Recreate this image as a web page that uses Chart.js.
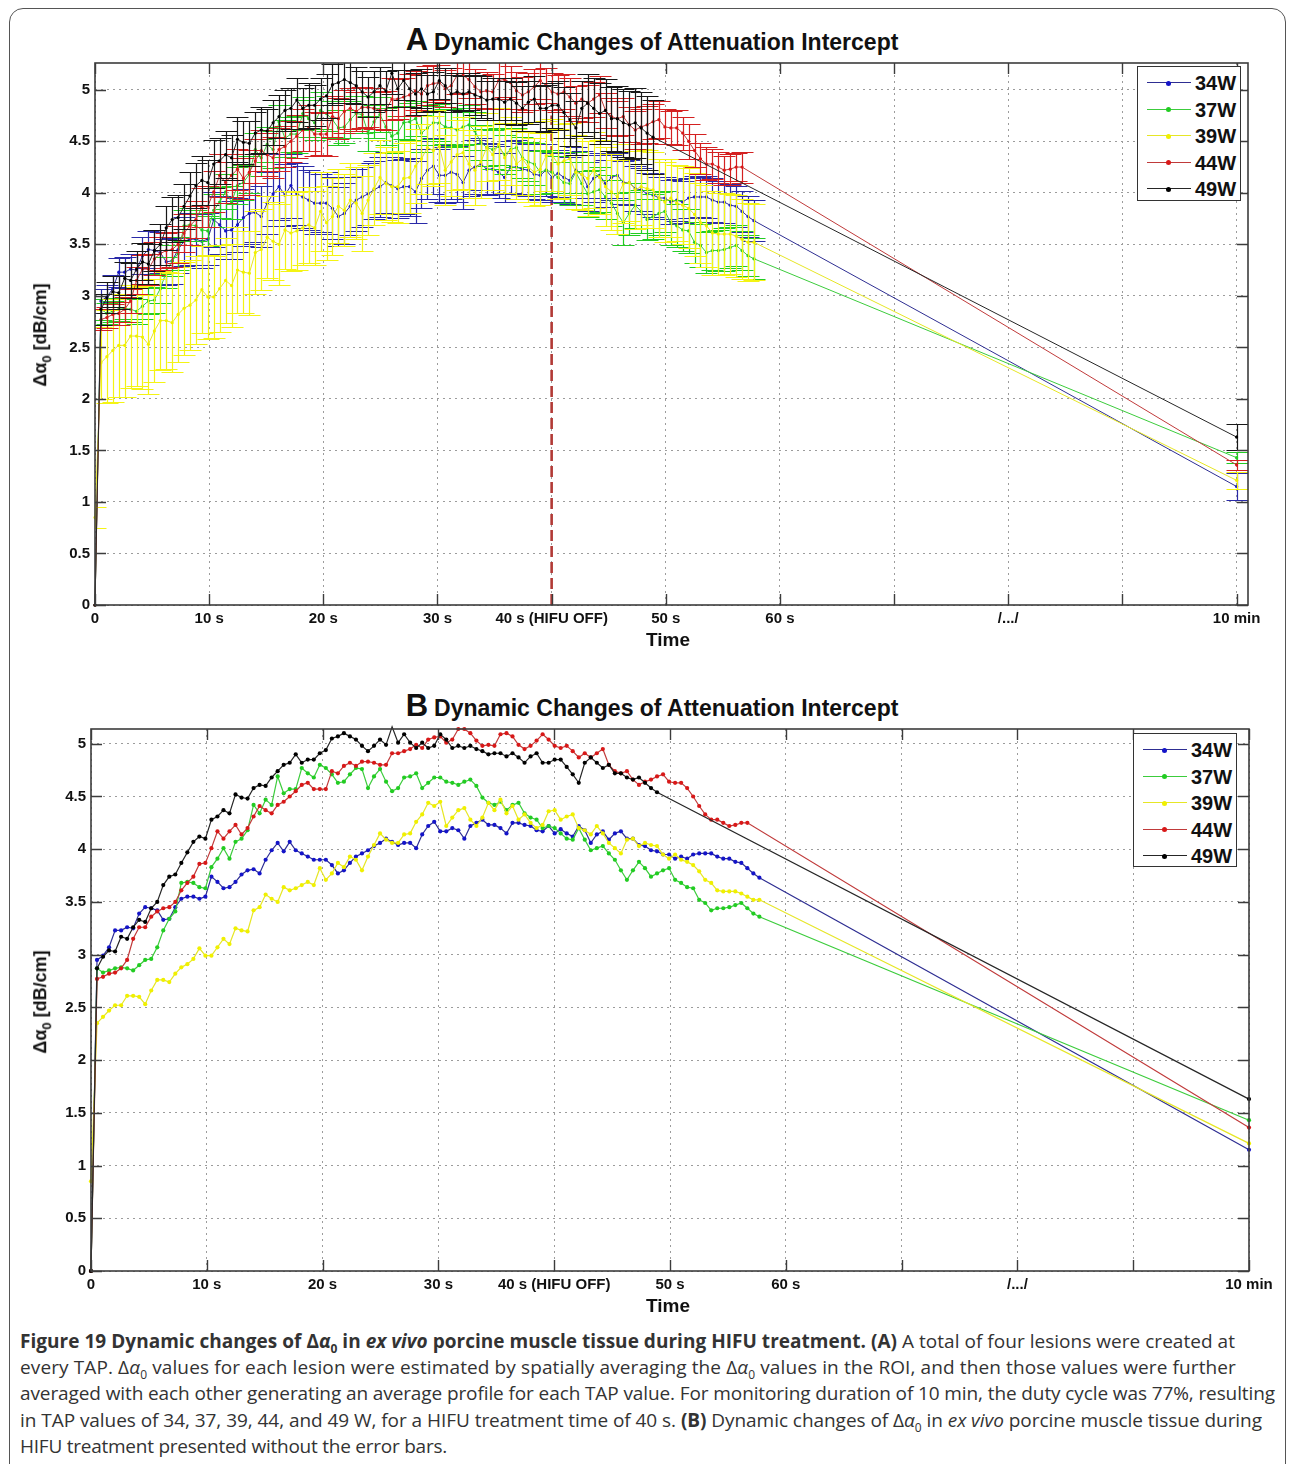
<!DOCTYPE html>
<html><head><meta charset="utf-8">
<script src="https://cdn.jsdelivr.net/npm/chart.js@4.4.0/dist/chart.umd.min.js"></script>
<style>
html,body{margin:0;padding:0;background:#fff;}
#page{position:relative;width:1290px;height:1464px;overflow:hidden;background:#fff;}
#frame{position:absolute;left:9px;top:8px;width:1277px;height:1500px;border:1.5px solid #555;border-radius:14px;box-sizing:border-box;}
.ttl{position:absolute;left:7px;width:1290px;text-align:center;font-family:"Liberation Sans",Arial,sans-serif;font-weight:bold;color:#111;font-size:23px;line-height:30px;white-space:nowrap;}
.ttl .big{font-size:31px;margin-right:6px;}
.cv{position:absolute;left:0;}
.xlab{position:absolute;font:bold 19px "Liberation Sans",Arial,sans-serif;color:#111;transform:translate(-50%,-50%);white-space:nowrap;}
.ylab{position:absolute;font:bold 18px "Liberation Sans",Arial,sans-serif;color:#111;transform:translate(-50%,-50%) rotate(-90deg);white-space:nowrap;}
.ylab sub{font-size:13px;}
.leg{position:absolute;border:1.3px solid #333;background:#fff;box-sizing:border-box;}
.leg .ln{position:absolute;left:9px;width:44px;height:0;}
.leg .dt{position:absolute;width:5px;height:5px;border-radius:50%;left:28px;}
.leg .tx{position:absolute;left:57px;font:bold 20px "Liberation Sans",Arial,sans-serif;color:#111;line-height:22px;}
.cap{position:absolute;left:20px;font-family:"Open Sans",sans-serif;font-size:19px;color:#333;line-height:26px;white-space:nowrap;}
.cap sub{font-size:12px;line-height:0;}
</style>
</head><body>
<div id="page">
  <div id="frame"></div>
  <div class="ttl" style="top:25px"><span class="big">A</span>Dynamic Changes of Attenuation Intercept</div>
  <div class="cv" style="top:55px"><canvas id="chartA" width="1290" height="600"></canvas></div>
  <div class="ylab" style="left:42px;top:335px">Δα<sub>0</sub> [dB/cm]</div>
  <div class="xlab" style="left:668px;top:640px">Time</div>
  <div class="leg" id="legA" style="left:1137px;top:66px;width:104px;height:135px"></div>

  <div class="ttl" style="top:691px"><span class="big">B</span>Dynamic Changes of Attenuation Intercept</div>
  <div class="cv" style="top:700px"><canvas id="chartB" width="1290" height="620"></canvas></div>
  <div class="ylab" style="left:42px;top:1002px">Δα<sub>0</sub> [dB/cm]</div>
  <div class="xlab" style="left:668px;top:1306px">Time</div>
  <div class="leg" id="legB" style="left:1133px;top:733px;width:104px;height:134px"></div>

  <div class="cap" data-right="1235" style="top:1328px"><b>Figure 19 Dynamic changes of Δ<i>α</i><sub>0</sub> in <i>ex vivo</i> porcine muscle tissue during HIFU treatment. (A)</b> A total of four lesions were created at</div>
  <div class="cap" data-right="1236" style="top:1354px">every TAP. Δ<i>α</i><sub>0</sub> values for each lesion were estimated by spatially averaging the Δ<i>α</i><sub>0</sub> values in the ROI, and then those values were further</div>
  <div class="cap" data-right="1275" style="top:1380px">averaged with each other generating an average profile for each TAP value. For monitoring duration of 10 min, the duty cycle was 77%, resulting</div>
  <div class="cap" data-right="1262" style="top:1407px">in TAP values of 34, 37, 39, 44, and 49 W, for a HIFU treatment time of 40 s. <b>(B)</b> Dynamic changes of Δ<i>α</i><sub>0</sub> in <i>ex vivo</i> porcine muscle tissue during</div>
  <div class="cap" data-right="447" style="top:1433px">HIFU treatment presented without the error bars.</div>
</div>
<script>
// ---------------- DATA ----------------
const seriesNames = ['34W', '37W', '39W', '44W', '49W'];
const xTickLabels = ['0', '10 s', '20 s', '30 s', '40 s (HIFU OFF)', '50 s', '60 s', '', '/.../', '', '10 min'];
const yTickLabels = ['0', '0.5', '1', '1.5', '2', '2.5', '3', '3.5', '4', '4.5', '5'];
// sample times in seconds (one frame every 0.52 s); 100 on the axis = 10 min
const times = [0,
  0.52, 1.04, 1.56, 2.08, 2.6, 3.12, 3.64, 4.16, 4.68, 5.2,
  5.72, 6.24, 6.76, 7.28, 7.8, 8.32, 8.84, 9.36, 9.88, 10.4,
  10.92, 11.44, 11.96, 12.48, 13, 13.52, 14.04, 14.56, 15.08, 15.6,
  16.12, 16.64, 17.16, 17.68, 18.2, 18.72, 19.24, 19.76, 20.28, 20.8,
  21.32, 21.84, 22.36, 22.88, 23.4, 23.92, 24.44, 24.96, 25.48, 26,
  26.52, 27.04, 27.56, 28.08, 28.6, 29.12, 29.64, 30.16, 30.68, 31.2,
  31.72, 32.24, 32.76, 33.28, 33.8, 34.32, 34.84, 35.36, 35.88, 36.4,
  36.92, 37.44, 37.96, 38.48, 39, 39.52, 40.04, 40.56, 41.08, 41.6,
  42.12, 42.64, 43.16, 43.68, 44.2, 44.72, 45.24, 45.76, 46.28, 46.8,
  47.32, 47.84, 48.36, 48.88, 49.4, 49.92, 50.44, 50.96, 51.48, 52,
  52.52, 53.04, 53.56, 54.08, 54.6, 55.12, 55.64, 56.16, 56.68, 57.2, 57.72,
  100];

const w34 = [0,
  2.95, 2.99, 3.07, 3.23, 3.23, 3.26, 3.25, 3.39, 3.45, 3.44,
  3.42, 3.33, 3.34, 3.45, 3.53, 3.55, 3.55, 3.53, 3.55, 3.74,
  3.69, 3.63, 3.64, 3.69, 3.76, 3.80, 3.81, 3.77, 3.90, 3.99,
  4.06, 3.98, 4.07, 3.99, 3.96, 3.93, 3.90, 3.90, 3.90, 3.85,
  3.77, 3.80, 3.87, 3.93, 3.96, 3.99, 4.03, 4.06, 4.10, 4.07,
  4.04, 4.06, 4.06, 4.01, 4.14, 4.22, 4.26, 4.17, 4.17, 4.20,
  4.18, 4.10, 4.22, 4.25, 4.28, 4.23, 4.23, 4.20, 4.15, 4.25,
  4.25, 4.23, 4.22, 4.18, 4.17, 4.22, 4.15, 4.19, 4.15, 4.12,
  4.22, 4.18, 4.06, 4.14, 4.17, 4.09, 4.15, 4.17, 4.10, 4.10,
  4.04, 4.03, 3.99, 3.98, 3.95, 3.95, 3.91, 3.93, 3.91, 3.95,
  3.96, 3.96, 3.96, 3.93, 3.91, 3.91, 3.88, 3.87, 3.82, 3.77, 3.73,
  1.15];
const w37 = [0,
  2.87, 2.83, 2.85, 2.87, 2.88, 2.87, 2.85, 2.90, 2.95, 2.96,
  3.07, 3.23, 3.34, 3.41, 3.68, 3.69, 3.68, 3.64, 3.63, 3.83,
  3.91, 4.01, 3.91, 4.07, 4.10, 4.18, 4.42, 4.34, 4.47, 4.42,
  4.69, 4.53, 4.57, 4.57, 4.77, 4.72, 4.68, 4.80, 4.77, 4.71,
  4.63, 4.64, 4.71, 4.77, 4.76, 4.58, 4.69, 4.76, 4.64, 4.55,
  4.58, 4.68, 4.69, 4.72, 4.58, 4.63, 4.68, 4.68, 4.64, 4.63,
  4.61, 4.64, 4.66, 4.60, 4.49, 4.44, 4.42, 4.45, 4.37, 4.42,
  4.44, 4.34, 4.30, 4.28, 4.20, 4.22, 4.20, 4.15, 4.10, 4.09,
  4.20, 4.09, 3.99, 4.01, 4.03, 3.96, 3.90, 3.80, 3.71, 3.80,
  3.88, 3.82, 3.74, 3.77, 3.80, 3.82, 3.71, 3.68, 3.64, 3.63,
  3.52, 3.49, 3.42, 3.44, 3.44, 3.45, 3.47, 3.49, 3.44, 3.39, 3.36,
  1.43];
const w39 = [0.85,
  2.35, 2.41, 2.47, 2.52, 2.52, 2.61, 2.61, 2.60, 2.53, 2.66,
  2.76, 2.76, 2.74, 2.82, 2.88, 2.91, 2.96, 3.06, 2.99, 2.99,
  3.07, 3.15, 3.10, 3.25, 3.23, 3.22, 3.42, 3.45, 3.57, 3.53,
  3.50, 3.64, 3.61, 3.63, 3.66, 3.69, 3.66, 3.82, 3.71, 3.77,
  3.87, 3.83, 3.93, 3.90, 3.80, 3.93, 4.04, 4.15, 4.09, 4.06,
  4.06, 4.14, 4.15, 4.26, 4.33, 4.44, 4.41, 4.45, 4.22, 4.30,
  4.37, 4.39, 4.28, 4.22, 4.30, 4.44, 4.37, 4.47, 4.34, 4.41,
  4.28, 4.33, 4.25, 4.20, 4.23, 4.36, 4.37, 4.28, 4.31, 4.33,
  4.20, 4.18, 4.14, 4.22, 4.15, 4.06, 4.01, 3.96, 4.09, 4.10,
  4.03, 4.06, 4.04, 4.03, 3.95, 3.91, 3.95, 3.90, 3.88, 3.85,
  3.79, 3.71, 3.68, 3.61, 3.60, 3.60, 3.60, 3.58, 3.55, 3.52, 3.52,
  1.21];
const w44 = [0,
  2.77, 2.79, 2.82, 2.83, 2.87, 2.95, 3.15, 3.26, 3.26, 3.36,
  3.41, 3.44, 3.45, 3.50, 3.61, 3.68, 3.74, 3.86, 3.87, 4.01,
  4.17, 4.10, 4.17, 4.23, 4.14, 4.20, 4.31, 4.41, 4.37, 4.34,
  4.42, 4.45, 4.50, 4.55, 4.61, 4.63, 4.57, 4.57, 4.57, 4.74,
  4.72, 4.79, 4.82, 4.79, 4.83, 4.83, 4.82, 4.80, 4.80, 4.91,
  4.91, 4.93, 4.95, 4.99, 4.96, 5.04, 5.06, 5.07, 5.01, 5.04,
  5.14, 5.14, 5.10, 5.03, 4.98, 4.99, 4.98, 5.09, 5.10, 5.07,
  4.99, 4.95, 4.98, 5.03, 5.09, 5.04, 4.98, 4.96, 4.98, 4.93,
  4.87, 4.91, 4.87, 4.91, 4.95, 4.80, 4.74, 4.72, 4.74, 4.66,
  4.61, 4.64, 4.66, 4.69, 4.71, 4.64, 4.63, 4.63, 4.58, 4.50,
  4.41, 4.33, 4.28, 4.28, 4.25, 4.22, 4.23, 4.25, 4.25, null, null,
  1.36];
const w49 = [0,
  2.87, 2.98, 3.04, 3.03, 3.17, 3.15, 3.26, 3.33, 3.31, 3.44,
  3.50, 3.66, 3.74, 3.76, 3.87, 3.97, 4.07, 4.12, 4.10, 4.28,
  4.31, 4.37, 4.34, 4.52, 4.49, 4.48, 4.58, 4.61, 4.60, 4.68,
  4.74, 4.80, 4.82, 4.90, 4.82, 4.85, 4.85, 4.91, 4.94, 5.05,
  5.07, 5.10, 5.07, 5.04, 4.98, 4.93, 4.98, 5.04, 4.99, 5.16,
  5.01, 5.09, 5.01, 4.96, 5.01, 4.96, 4.98, 5.09, 5.04, 4.96,
  4.98, 4.96, 4.98, 4.95, 4.93, 4.90, 4.91, 4.91, 4.88, 4.91,
  4.87, 4.82, 4.88, 4.91, 4.82, 4.82, 4.85, 4.85, 4.78, 4.71,
  4.63, 4.82, 4.87, 4.82, 4.77, 4.80, 4.72, 4.72, 4.68, 4.66,
  4.68, 4.63, 4.58, 4.54, null, null, null, null, null, null,
  null, null, null, null, null, null, null, null, null, null, null,
  1.63];

// error-bar half lengths (panel A)
const e34 = [0,
  0.12, 0.12, 0.13, 0.14, 0.15, 0.15, 0.16, 0.18, 0.18, 0.20,
  0.20, 0.22, 0.22, 0.23, 0.24, 0.25, 0.25, 0.26, 0.25, 0.27,
  0.28, 0.27, 0.28, 0.26, 0.28, 0.30, 0.29, 0.30, 0.30, 0.31,
  0.32, 0.30, 0.31, 0.30, 0.30, 0.29, 0.30, 0.28, 0.30, 0.30,
  0.29, 0.30, 0.28, 0.30, 0.29, 0.30, 0.28, 0.29, 0.30, 0.28,
  0.28, 0.27, 0.28, 0.30, 0.29, 0.28, 0.27, 0.26, 0.27, 0.26,
  0.27, 0.26, 0.25, 0.26, 0.25, 0.25, 0.24, 0.25, 0.24, 0.25,
  0.26, 0.25, 0.25, 0.24, 0.24, 0.25, 0.24, 0.23, 0.24, 0.23,
  0.22, 0.23, 0.24, 0.23, 0.22, 0.23, 0.22, 0.22, 0.21, 0.22,
  0.22, 0.21, 0.20, 0.21, 0.20, 0.20, 0.21, 0.20, 0.20, 0.19,
  0.20, 0.19, 0.20, 0.21, 0.20, 0.20, 0.21, 0.20, 0.20, 0.20, 0.20,
  0.13];
const e37 = [0,
  0.10, 0.10, 0.10, 0.11, 0.10, 0.12, 0.12, 0.12, 0.13, 0.13,
  0.14, 0.15, 0.15, 0.16, 0.15, 0.16, 0.15, 0.16, 0.15, 0.16,
  0.15, 0.17, 0.16, 0.18, 0.17, 0.18, 0.16, 0.18, 0.17, 0.18,
  0.16, 0.18, 0.17, 0.18, 0.16, 0.18, 0.17, 0.18, 0.17, 0.18,
  0.17, 0.16, 0.18, 0.17, 0.18, 0.17, 0.16, 0.17, 0.18, 0.16,
  0.17, 0.16, 0.18, 0.17, 0.18, 0.17, 0.16, 0.18, 0.17, 0.18,
  0.17, 0.18, 0.19, 0.18, 0.17, 0.18, 0.19, 0.18, 0.19, 0.20,
  0.19, 0.20, 0.19, 0.20, 0.21, 0.20, 0.20, 0.21, 0.20, 0.21,
  0.20, 0.21, 0.22, 0.21, 0.22, 0.21, 0.22, 0.20, 0.22, 0.21,
  0.22, 0.21, 0.20, 0.22, 0.21, 0.20, 0.22, 0.21, 0.20, 0.21,
  0.20, 0.21, 0.20, 0.19, 0.20, 0.21, 0.20, 0.20, 0.19, 0.20, 0.20,
  0.05];
const e39 = [0.10,
  0.35, 0.45, 0.50, 0.50, 0.50, 0.50, 0.48, 0.50, 0.48, 0.50,
  0.48, 0.47, 0.48, 0.46, 0.45, 0.44, 0.43, 0.42, 0.41, 0.40,
  0.42, 0.41, 0.40, 0.42, 0.40, 0.41, 0.40, 0.39, 0.40, 0.38,
  0.39, 0.38, 0.37, 0.38, 0.36, 0.37, 0.36, 0.38, 0.36, 0.37,
  0.36, 0.35, 0.36, 0.35, 0.36, 0.34, 0.35, 0.36, 0.35, 0.34,
  0.35, 0.34, 0.35, 0.36, 0.34, 0.35, 0.34, 0.35, 0.34, 0.33,
  0.34, 0.35, 0.33, 0.34, 0.35, 0.33, 0.34, 0.35, 0.34, 0.33,
  0.34, 0.35, 0.34, 0.33, 0.35, 0.34, 0.35, 0.34, 0.36, 0.35,
  0.36, 0.35, 0.36, 0.37, 0.36, 0.38, 0.37, 0.36, 0.38, 0.37,
  0.38, 0.37, 0.38, 0.37, 0.38, 0.39, 0.38, 0.37, 0.38, 0.39,
  0.40, 0.39, 0.40, 0.41, 0.40, 0.40, 0.39, 0.40, 0.39, 0.38, 0.37,
  0.08];
const e44 = [0,
  0.10, 0.10, 0.10, 0.11, 0.12, 0.12, 0.13, 0.14, 0.15, 0.16,
  0.16, 0.17, 0.17, 0.18, 0.18, 0.19, 0.18, 0.19, 0.20, 0.20,
  0.21, 0.20, 0.21, 0.20, 0.20, 0.22, 0.21, 0.20, 0.21, 0.20,
  0.21, 0.20, 0.20, 0.21, 0.20, 0.22, 0.21, 0.20, 0.21, 0.20,
  0.20, 0.21, 0.20, 0.19, 0.20, 0.19, 0.20, 0.18, 0.19, 0.20,
  0.19, 0.18, 0.20, 0.19, 0.18, 0.19, 0.18, 0.17, 0.18, 0.17,
  0.18, 0.17, 0.18, 0.17, 0.16, 0.18, 0.17, 0.18, 0.17, 0.16,
  0.18, 0.17, 0.18, 0.17, 0.18, 0.17, 0.18, 0.18, 0.17, 0.18,
  0.17, 0.18, 0.18, 0.17, 0.18, 0.17, 0.18, 0.17, 0.18, 0.17,
  0.18, 0.17, 0.18, 0.17, 0.18, 0.17, 0.16, 0.17, 0.16, 0.17,
  0.16, 0.15, 0.16, 0.15, 0.15, 0.14, 0.15, 0.14, 0.15, null, null,
  0.05];
const e49 = [0,
  0.15, 0.15, 0.15, 0.16, 0.16, 0.17, 0.18, 0.18, 0.19, 0.20,
  0.20, 0.21, 0.22, 0.22, 0.22, 0.23, 0.22, 0.24, 0.22, 0.23,
  0.22, 0.23, 0.22, 0.22, 0.21, 0.22, 0.20, 0.22, 0.21, 0.22,
  0.21, 0.20, 0.20, 0.21, 0.20, 0.22, 0.20, 0.20, 0.21, 0.20,
  0.20, 0.19, 0.20, 0.18, 0.20, 0.19, 0.20, 0.18, 0.19, 0.20,
  0.18, 0.19, 0.18, 0.20, 0.19, 0.18, 0.19, 0.18, 0.17, 0.18,
  0.18, 0.17, 0.18, 0.19, 0.20, 0.19, 0.20, 0.20, 0.21, 0.20,
  0.21, 0.22, 0.21, 0.22, 0.22, 0.23, 0.22, 0.24, 0.25, 0.26,
  0.26, 0.27, 0.28, 0.29, 0.30, 0.30, 0.31, 0.32, 0.33, 0.33,
  0.34, 0.35, 0.36, 0.36, null, null, null, null, null, null,
  null, null, null, null, null, null, null, null, null, null, null,
  0.13];

const seriesValues = [w34, w37, w39, w44, w49];
const seriesErrors = [e34, e37, e39, e44, e49];
const lineColors = ['#2e2e92', '#3ccc3c', '#e6e626', '#c03a3a', '#262626'];
const dotColors = ['#1414c8', '#22cc22', '#f0f000', '#d81818', '#000000'];
const errColors = ['#2a2aa8', '#22cc22', '#f4f414', '#d42020', '#181818'];
const hifuOffTime = 40;

// ---------------- PLOTTING ----------------
const FONT = '"Liberation Sans", Arial, sans-serif';

const matlabPlugin = {
  id: 'matlab',
  beforeDatasetsDraw(chart, args, opts) {
    if (opts.hifu == null) return;
    const {ctx, chartArea} = chart;
    const x = chart.scales.x.getPixelForValue(opts.hifu);
    ctx.save();
    ctx.strokeStyle = '#b23a36';
    ctx.lineWidth = 2.6;
    ctx.setLineDash([11, 5]);
    ctx.beginPath();
    ctx.moveTo(x, chartArea.bottom);
    ctx.lineTo(x, chart.scales.y.getPixelForValue(4.75));
    ctx.stroke();
    ctx.restore();
  },
  beforeDatasetDraw(chart, args, opts) {
    if (!opts.errors) return;
    const i = args.index;
    const err = opts.errors[i];
    const ds = chart.data.datasets[i];
    const xs = chart.scales.x, ys = chart.scales.y;
    const {ctx, chartArea} = chart;
    const cap = 11;
    ctx.save();
    ctx.beginPath();
    ctx.rect(chartArea.left, chartArea.top, chartArea.right - chartArea.left, chartArea.bottom - chartArea.top);
    ctx.clip();
    ctx.strokeStyle = opts.errColors[i];
    ctx.lineWidth = 1.2;
    ds.data.forEach((p, k) => {
      if (p.y == null || err[k] == null || !err[k]) return;
      const x = Math.round(xs.getPixelForValue(p.x)) + 0.5;
      const y1 = Math.round(ys.getPixelForValue(p.y - err[k])) + 0.5;
      const y2 = Math.round(ys.getPixelForValue(p.y + err[k])) + 0.5;
      ctx.beginPath();
      ctx.moveTo(x, y1); ctx.lineTo(x, y2);
      ctx.moveTo(x - cap, y1); ctx.lineTo(x + cap, y1);
      ctx.moveTo(x - cap, y2); ctx.lineTo(x + cap, y2);
      ctx.stroke();
    });
    ctx.restore();
  },
  afterDraw(chart) {
    const {ctx, chartArea: a} = chart;
    const xs = chart.scales.x, ys = chart.scales.y;
    ctx.save();
    ctx.strokeStyle = '#3c3c3c';
    ctx.lineWidth = 1.6;
    ctx.strokeRect(a.left, a.top, a.right - a.left, a.bottom - a.top);
    ctx.lineWidth = 1.4;
    const tl = 11;
    ctx.beginPath();
    xs.ticks.forEach(t => {
      const x = Math.round(xs.getPixelForValue(t.value)) + 0.5;
      ctx.moveTo(x, a.bottom); ctx.lineTo(x, a.bottom - tl);
      ctx.moveTo(x, a.top); ctx.lineTo(x, a.top + tl);
    });
    ys.ticks.forEach(t => {
      const y = Math.round(ys.getPixelForValue(t.value)) + 0.5;
      ctx.moveTo(a.left, y); ctx.lineTo(a.left + tl, y);
      ctx.moveTo(a.right, y); ctx.lineTo(a.right - tl, y);
    });
    ctx.stroke();
    ctx.restore();
  }
};

function makeChart(id, cfg) {
  const datasets = seriesNames.map((name, i) => ({
    label: name,
    data: times.map((t, k) => ({x: t, y: seriesValues[i][k]})),
    borderColor: lineColors[i],
    backgroundColor: dotColors[i],
    pointBackgroundColor: dotColors[i],
    pointBorderColor: dotColors[i],
    pointBorderWidth: 0,
    pointRadius: cfg.r,
    pointHoverRadius: cfg.r,
    borderWidth: cfg.bw,
    spanGaps: true,
    tension: 0,
    clip: false,
    order: seriesNames.length - i
  }));
  const tickFont = {family: FONT, size: 15, weight: 'bold'};
  return new Chart(document.getElementById(id), {
    type: 'line',
    data: {datasets},
    options: {
      animation: false,
      responsive: false,
      events: [],
      layout: {padding: {left: 0, right: cfg.padR, top: cfg.padT, bottom: 0}},
      plugins: {
        legend: {display: false},
        tooltip: {enabled: false},
        matlab: {errors: cfg.errors, errColors: errColors, hifu: cfg.hifu}
      },
      scales: {
        x: {
          type: 'linear', min: 0, max: cfg.xmax,
          afterFit: s => { s.height = cfg.xh; s.paddingLeft = 0; s.paddingRight = 0; },
          ticks: {stepSize: 10, autoSkip: false, maxRotation: 0, includeBounds: false, padding: 5,
            font: tickFont, color: '#111',
            callback: v => xTickLabels[Math.round(v / 10)] ?? ''},
          grid: {color: '#9c9c9c', lineWidth: 1, drawTicks: false},
          border: {display: false, dash: [2, 4]}
        },
        y: {
          type: 'linear', min: 0, max: cfg.ymax,
          afterFit: s => { s.width = cfg.yw; s.paddingTop = 0; s.paddingBottom = 0; },
          ticks: {stepSize: 0.5, includeBounds: false, padding: 5,
            font: tickFont, color: '#111',
            callback: v => yTickLabels[Math.round(v * 2)] ?? ''},
          grid: {color: '#9c9c9c', lineWidth: 1, drawTicks: false},
          border: {display: false, dash: [2, 4]}
        }
      }
    },
    plugins: [matlabPlugin]
  });
}

makeChart('chartA', {xmax: 101, ymax: 5.26, xh: 50, yw: 95, padT: 8, padR: 42, r: 1.6, bw: 1.0,
  errors: seriesErrors, hifu: hifuOffTime});
makeChart('chartB', {xmax: 100, ymax: 5.14, xh: 49, yw: 91, padT: 29, padR: 41, r: 2.1, bw: 1.2,
  errors: null, hifu: null});

function buildLegend(id) {
  const box = document.getElementById(id);
  const rows = [16, 42.5, 69, 95.5, 122];
  seriesNames.forEach((name, i) => {
    const y = rows[i];
    const ln = document.createElement('div');
    ln.className = 'ln';
    ln.style.top = (y - 0.75) + 'px';
    ln.style.borderTop = '1.5px solid ' + lineColors[i];
    const dt = document.createElement('div');
    dt.className = 'dt';
    dt.style.top = (y - 2.5) + 'px';
    dt.style.background = dotColors[i];
    const tx = document.createElement('div');
    tx.className = 'tx';
    tx.style.top = (y - 11) + 'px';
    tx.textContent = name;
    box.append(ln, dt, tx);
  });
}
buildLegend('legA');
buildLegend('legB');

// fit each caption line to the width it has in the figure
document.querySelectorAll('.cap').forEach(el => {
  const target = parseFloat(el.dataset.right) - 20;
  const w = el.getBoundingClientRect().width;
  const n = el.textContent.length;
  if (n > 1) el.style.letterSpacing = ((target - w) / n).toFixed(3) + 'px';
});
</script>
</body></html>
